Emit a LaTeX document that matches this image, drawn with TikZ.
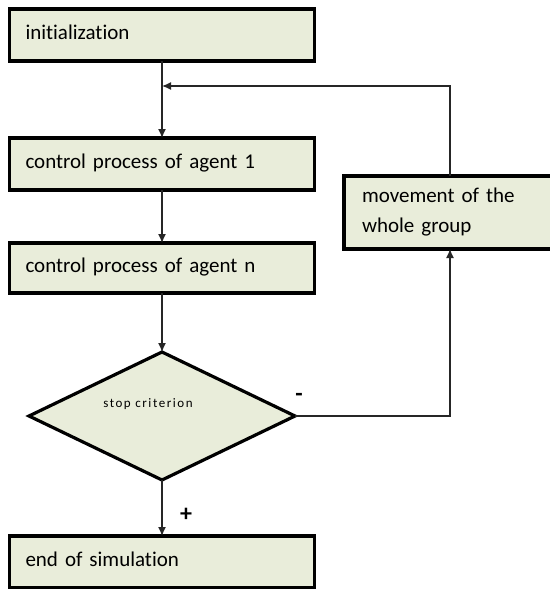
\documentclass[tikz,border=0pt]{standalone}
\usepackage{fontspec}
\setmainfont{Carlito}[Ligatures={NoCommon,NoContextual},WordSpace=0.75]
\newfontfamily\widefont{Carlito}[LetterSpace=12,Ligatures={NoCommon,NoContextual}]
\usetikzlibrary{arrows.meta,shapes.geometric}
\definecolor{boxfill}{HTML}{E9EDDA}
\begin{document}
\begin{tikzpicture}[x=1pt,y=-1pt,
  procbox/.style={draw=black,line width=3.2pt,fill=boxfill,anchor=north west,
    minimum width=305pt,minimum height=52pt,text width=273pt,align=left,
    inner xsep=16pt,inner ysep=0pt,outer sep=0pt,
    font=\fontsize{21}{24}\selectfont},
  decbox/.style={draw=black,line width=3.2pt,fill=boxfill,diamond,
    minimum width=266pt,minimum height=128pt,inner sep=0pt,outer sep=0pt},
  conn/.style={line width=1.3pt,draw=black!85,-{Latex[length=9pt,width=8pt]}},
  plain/.style={line width=1.3pt,draw=black!85},
  sign/.style={font=\fontsize{24}{24}\selectfont\bfseries,inner sep=0pt}]
\useasboundingbox (0,0) rectangle (549,589);

% main chain of steps
\node[procbox] (init) at (9.5,9) {initialization\strut};
\node[procbox] (agent1) at (9.5,138) {control process of agent 1\strut};
\node[procbox,minimum height=50pt] (agentn) at (9.5,243) {control process of agent n\strut};
\coordinate (declevel) at (0,416);
\node[decbox] (dec) at (agentn.south |- declevel) {};
\node[font=\widefont\fontsize{13}{14}\selectfont,inner sep=0pt] (declabel)
  at (148,404) {stop criterion};
\node[procbox] (finish) at (9.5,536) {end of simulation\strut};

% side step for the group movement
\node[procbox,minimum width=212pt,minimum height=73pt,text width=176pt,
  inner xsep=18pt,font=\fontsize{21}{30}\selectfont] (move) at (344,176)
  {movement of the\\whole group};

\coordinate (looplevel) at (0,86);
\coordinate (join) at (init.south |- looplevel);

% connectors
\draw[plain] (init) -- (join);
\draw[conn] (join) -- (agent1);
\draw[conn] (agent1) -- (agentn);
\draw[conn] (agentn) -- (dec);
\draw[conn] (dec) -- (finish);
\draw[conn] (dec.east) -| (move.south);
\draw[conn] (move.north) |- (join);

% branch signs
\node[sign] (minus) at (299,397) {-};
\node[sign] (plus) at (186,515) {+};
\end{tikzpicture}
\end{document}
